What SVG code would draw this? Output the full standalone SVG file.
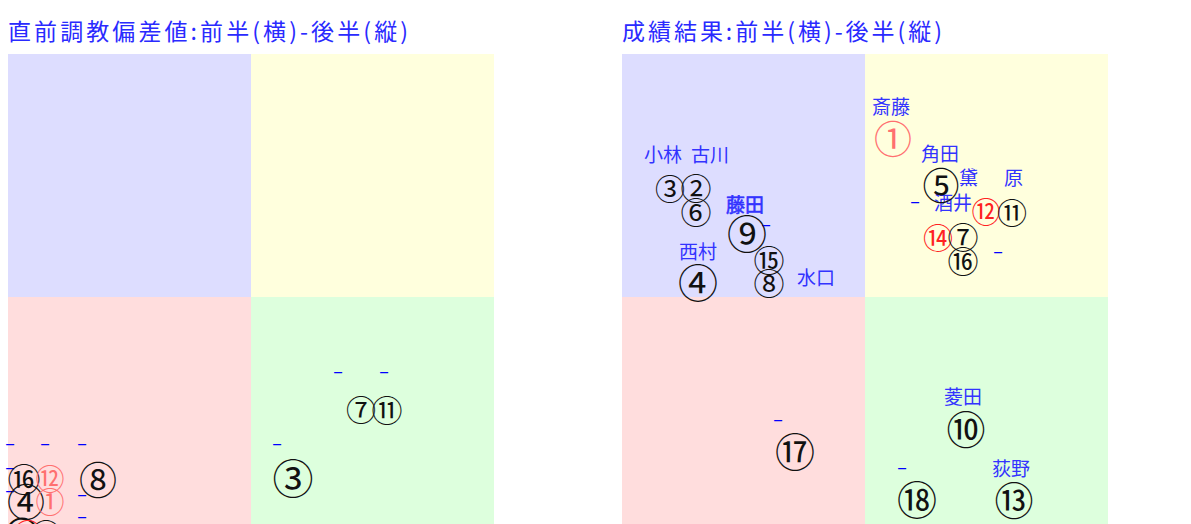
<svg xmlns="http://www.w3.org/2000/svg" width="1191" height="524" viewBox="0 0 1191 524">
<style>
.t{font-family:"Noto Sans CJK JP",sans-serif;font-size:23px;fill:#2a2aff}
.n{font-family:"Noto Sans CJK JP",sans-serif;text-anchor:middle}
.k{fill:#111}
.r{fill:#f22}
.p{fill:#ff7070}
.l{font-family:"Noto Sans CJK JP",sans-serif;font-size:19px;fill:#3333ff}
.d{font-family:"Noto Sans CJK JP",sans-serif;font-size:18px;fill:#0000ff;text-anchor:middle}
.qb{fill:#ddddff}.qy{fill:#ffffdd}.qp{fill:#ffdddd}.qg{fill:#ddffdd}
</style>
<rect width="1191" height="524" fill="#fff"/>
<g id="chart-left">
<text class="t" x="8" y="40" textLength="400" lengthAdjust="spacing">直前調教偏差値:前半(横)-後半(縦)</text>
<rect class="qb" x="8" y="54" width="243" height="243"/>
<rect class="qy" x="251" y="54" width="243" height="243"/>
<rect class="qp" x="8" y="297" width="243" height="243"/>
<rect class="qg" x="251" y="297" width="243" height="243"/>
</g>
<g id="chart-right">
<text class="t" x="622" y="40" textLength="320" lengthAdjust="spacing">成績結果:前半(横)-後半(縦)</text>
<rect class="qb" x="622" y="54" width="243" height="243"/>
<rect class="qy" x="865" y="54" width="243" height="243"/>
<rect class="qp" x="622" y="297" width="243" height="243"/>
<rect class="qg" x="865" y="297" width="243" height="243"/>
</g>
<g id="connectors"></g>
<g id="left-labels">
<text class="d" x="338" y="378">–</text>
<text class="d" x="384" y="378">–</text>
<text class="d" x="277" y="450">–</text>
<text class="d" x="10" y="450">–</text>
<text class="d" x="45" y="450">–</text>
<text class="d" x="82" y="450">–</text>
<text class="d" x="10" y="474">–</text>
<text class="d" x="10" y="497">–</text>
<text class="d" x="82" y="501">–</text>
<text class="d" x="82" y="523">–</text>
</g>
<g id="left-nodes">
<g id="L7"><text class="n k" x="361" y="421" font-size="30">⑦</text></g>
<g id="L11"><text class="n k" x="387" y="422" font-size="31">⑪</text></g>
<g id="L3"><text class="n k" x="293" y="494" font-size="41">③</text></g>
<g id="L16"><text class="n k" x="24" y="492" font-size="33">⑯</text></g>
<g id="L12"><text class="n p" x="50" y="490" font-size="29">⑫</text></g>
<g id="L8"><text class="n k" x="98" y="494" font-size="38">⑧</text></g>
<g id="L4"><text class="n k" x="26" y="516" font-size="38">④</text></g>
<g id="L1"><text class="n p" x="50" y="513" font-size="29">①</text></g>
<g id="L15"><text class="n k" x="22" y="546" font-size="33" stroke="#111" stroke-width="1">⑮</text></g>
<g id="L14"><text class="n r" x="28" y="545" font-size="29">⑭</text></g>
<g id="L9"><text class="n k" x="46" y="546" font-size="31">⑨</text></g>
</g>
<g id="right-labels">
<text class="l" x="644" y="162">小林</text>
<text class="l" x="691" y="162">古川</text>
<text class="l" x="726" y="212" stroke="#3333ff" stroke-width="0.6">藤田</text>
<text class="l" x="679" y="259">西村</text>
<text class="l" x="797" y="285">水口</text>
<text class="l" x="872" y="114">斎藤</text>
<text class="l" x="921" y="161">角田</text>
<text class="l" x="959" y="185">黛</text>
<text class="l" x="1004" y="185">原</text>
<text class="l" x="934" y="210">酒井</text>
<text class="l" x="944" y="404">菱田</text>
<text class="l" x="992" y="476">荻野</text>
<text class="d" x="915" y="208">–</text>
<text class="d" x="766" y="231">–</text>
<text class="d" x="998" y="258">–</text>
<text class="d" x="778" y="426">–</text>
<text class="d" x="902" y="474">–</text>
</g>
<g id="right-nodes">
<g id="R1"><text class="n p" x="893" y="153" font-size="38">①</text></g>
<g id="R5"><text class="n k" x="941" y="200" font-size="37">⑤</text></g>
<g id="R12"><text class="n r" x="986" y="223" font-size="29">⑫</text></g>
<g id="R11"><text class="n k" x="1012" y="224" font-size="30">⑪</text></g>
<g id="R14"><text class="n r" x="938" y="249" font-size="30">⑭</text></g>
<g id="R7"><text class="n k" x="963" y="249" font-size="31">⑦</text></g>
<g id="R16"><text class="n k" x="963" y="273" font-size="31">⑯</text></g>
<g id="R3"><text class="n k" x="670" y="200" font-size="30">③</text></g>
<g id="R2"><text class="n k" x="696" y="200" font-size="31">②</text></g>
<g id="R6"><text class="n k" x="696" y="224" font-size="31">⑥</text></g>
<g id="R9"><text class="n k" x="747" y="249" font-size="40">⑨</text></g>
<g id="R15"><text class="n k" x="769" y="272" font-size="31">⑮</text></g>
<g id="R4"><text class="n k" x="698" y="298" font-size="40">④</text></g>
<g id="R8"><text class="n k" x="769" y="295" font-size="31">⑧</text></g>
<g id="R17"><text class="n k" x="795" y="467" font-size="40">⑰</text></g>
<g id="R10"><text class="n k" x="966" y="444" font-size="39">⑩</text></g>
<g id="R18"><text class="n k" x="917" y="515" font-size="40">⑱</text></g>
<g id="R13"><text class="n k" x="1014" y="515" font-size="39">⑬</text></g>
</g>
</svg>
